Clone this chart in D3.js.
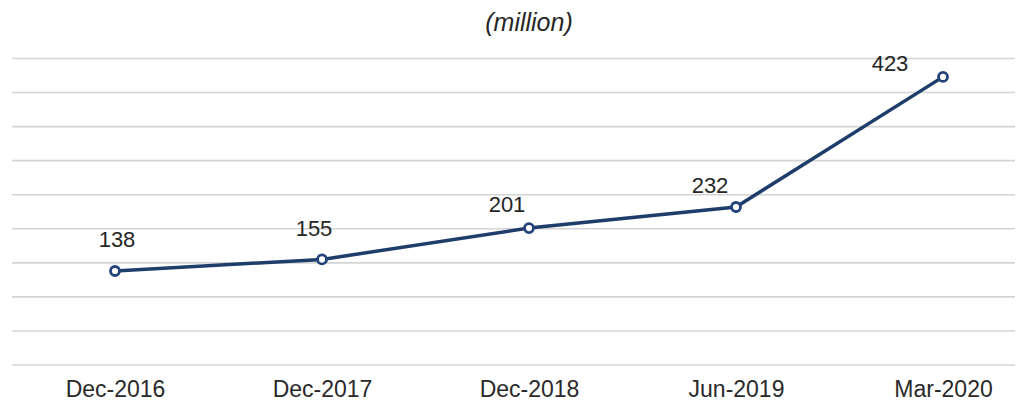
<!DOCTYPE html>
<html>
<head>
<meta charset="utf-8">
<script src="https://cdn.jsdelivr.net/npm/d3@7/dist/d3.min.js"></script>
<style>
  body { margin: 0; background: #fff; }
  text { font-family: "Liberation Sans", Arial, sans-serif; fill: #262626; }
</style>
</head>
<body>
<div class="myBox"></div>
<script>
var periods = ["Dec-2016", "Dec-2017", "Dec-2018", "Jun-2019", "Mar-2020"];
var users = [138, 155, 201, 232, 423];
var gridTicks = [0, 50, 100, 150, 200, 250, 300, 350, 400, 450];

// little nudges for the value labels, as in the original
var labelDx = [2, -8, -22, -26, -53];
var labelDy = [-24, -23, -16, -14, -6];

var width = 1019, height = 404;

var svg = d3.select(".myBox").append("svg")
  .attr("width", width)
  .attr("height", height);

var x = d3.scalePoint().domain(periods).range([115, 943]);
var y = d3.scaleLinear().domain([0, 450]).range([365, 58.5]);

// gridlines
svg.append("g")
  .selectAll("line")
  .data(gridTicks)
  .enter().append("line")
    .attr("x1", 12).attr("x2", 1015)
    .attr("y1", function(d) { return y(d); })
    .attr("y2", function(d) { return y(d); })
    .attr("stroke", "#d4d4d4")
    .attr("stroke-width", 1.6);

// x axis labels
var xAxis = d3.axisBottom(x).tickSize(0).tickPadding(0);
var gx = svg.append("g").attr("transform", "translate(0,381)").call(xAxis);
gx.select(".domain").remove();
gx.selectAll("text")
  .attr("dy", "0.71em")
  .style("font-size", "23px")
  .style("font-family", "'Liberation Sans', Arial, sans-serif")
  .style("fill", "#2a2a2a");

// title
svg.append("text")
  .attr("x", 529).attr("y", 31)
  .attr("text-anchor", "middle")
  .style("font-size", "25px")
  .style("font-style", "italic")
  .text("(million)");

var line = d3.line()
  .x(function(d, i) { return x(periods[i]); })
  .y(function(d) { return y(d); });

svg.append("path")
  .datum(users)
  .attr("fill", "none")
  .attr("stroke", "#1f3d6b")
  .attr("stroke-width", 3.5)
  .attr("d", line);

svg.append("g")
  .selectAll("circle")
  .data(users)
  .enter().append("circle")
    .attr("cx", function(d, i) { return x(periods[i]); })
    .attr("cy", function(d) { return y(d); })
    .attr("r", 4.5)
    .attr("fill", "#fff")
    .attr("stroke", "#24437a")
    .attr("stroke-width", 2.8);

svg.append("g")
  .selectAll("text")
  .data(users)
  .enter().append("text")
    .attr("x", function(d, i) { return x(periods[i]) + labelDx[i]; })
    .attr("y", function(d, i) { return y(d) + labelDy[i]; })
    .attr("text-anchor", "middle")
    .style("font-size", "22px")
    .text(function(d) { return d; });
</script>
</body>
</html>
